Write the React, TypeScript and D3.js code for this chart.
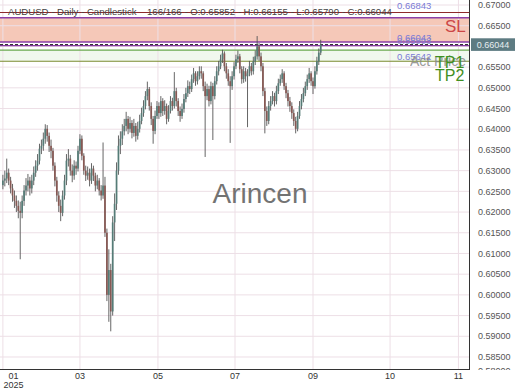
import React from 'react';
import * as d3 from 'd3';

const W = 520;
const H = 390;
const PLOT_RIGHT = 470;
const PLOT_BOTTOM = 369;

// OHLC in pips (1e-4)
const opens = [
  6265,6276,6281,6295,6276,6257,6240,6227,6215,6203,
  6198,6227,6252,6264,6276,6257,6276,6295,6312,6324,
  6353,6360,6377,6401,6384,6360,6348,6312,6276,6240,
  6215,6198,6240,6276,6324,6329,6300,6288,6312,6305,
  6348,6377,6336,6300,6288,6295,6276,6305,6288,6264,
  6276,6252,6240,6264,6150,6000,6060,5960,6175,6220,
  6300,6360,6377,6395,6408,6425,6401,6415,6391,6408,
  6384,6401,6420,6439,6456,6480,6497,6456,6425,6396,
  6432,6456,6439,6468,6444,6456,6425,6444,6468,6456,
  6492,6468,6444,6432,6449,6473,6487,6504,6497,6521,
  6535,6516,6528,6540,6535,6504,6480,6497,6468,6504,
  6480,6516,6540,6552,6569,6583,6552,6535,6516,6504,
  6528,6552,6569,6576,6545,6521,6540,6528,6535,6552,
  6540,6564,6576,6600,6576,6552,6492,6444,6420,6456,
  6468,6480,6468,6492,6511,6521,6535,6504,6487,6468,
  6456,6439,6420,6401,6432,6456,6473,6487,6504,6521,
  6535,6516,6504,6540,6564,6585,
];
const highs = [
  6290,6300,6329,6305,6285,6268,6252,6240,6228,6225,
  6240,6265,6282,6292,6285,6290,6310,6325,6340,6365,
  6375,6392,6412,6410,6392,6375,6355,6320,6285,6250,
  6230,6252,6290,6340,6352,6338,6315,6325,6322,6360,
  6388,6385,6342,6312,6310,6305,6318,6312,6295,6290,
  6282,6265,6368,6285,6160,6110,6075,6190,6245,6320,
  6385,6395,6412,6425,6442,6432,6430,6422,6425,6415,
  6418,6435,6452,6470,6492,6515,6502,6465,6432,6445,
  6468,6465,6480,6475,6470,6462,6458,6480,6476,6538,
  6500,6475,6455,6462,6485,6500,6518,6515,6532,6548,
  6540,6540,6552,6552,6540,6515,6510,6505,6515,6512,
  6528,6552,6565,6580,6592,6588,6560,6545,6528,6540,
  6562,6580,6590,6582,6552,6552,6548,6545,6565,6560,
  6575,6590,6625,6608,6585,6560,6500,6455,6468,6480,
  6492,6488,6505,6522,6532,6545,6540,6512,6495,6478,
  6465,6448,6430,6442,6468,6485,6500,6515,6532,6548,
  6540,6525,6552,6575,6595,6616,
];
const lows = [
  6255,6262,6270,6265,6245,6225,6210,6200,6185,6086,
  6185,6215,6240,6250,6240,6245,6265,6285,6300,6315,
  6340,6348,6365,6370,6345,6330,6300,6262,6225,6200,
  6178,6190,6230,6265,6310,6288,6272,6278,6290,6298,
  6340,6325,6290,6275,6278,6262,6268,6275,6250,6255,
  6240,6228,6232,6140,5985,5935,5912,5950,6130,6205,
  6290,6340,6362,6385,6395,6388,6392,6378,6382,6370,
  6375,6392,6412,6430,6448,6470,6445,6410,6365,6388,
  6425,6425,6430,6432,6435,6412,6418,6438,6445,6450,
  6455,6432,6418,6425,6440,6465,6478,6485,6490,6512,
  6505,6508,6520,6522,6492,6333,6470,6455,6460,6374,
  6472,6508,6530,6545,6560,6540,6522,6505,6367,6495,
  6520,6545,6560,6535,6510,6512,6515,6405,6528,6530,
  6532,6555,6568,6565,6540,6480,6390,6408,6412,6445,
  6460,6455,6460,6485,6505,6512,6495,6475,6455,6442,
  6425,6408,6390,6395,6425,6448,6465,6480,6495,6512,
  6505,6485,6498,6532,6555,6579,
];
const closes = [
  6276,6281,6295,6276,6257,6240,6227,6215,6203,6198,
  6227,6252,6264,6276,6257,6276,6295,6312,6324,6353,
  6360,6377,6401,6384,6360,6348,6312,6276,6240,6215,
  6198,6240,6276,6324,6329,6300,6288,6312,6305,6348,
  6377,6336,6300,6288,6295,6276,6305,6288,6264,6276,
  6252,6240,6264,6150,6000,6060,5960,6175,6220,6300,
  6360,6377,6395,6408,6425,6401,6415,6391,6408,6384,
  6401,6420,6439,6456,6480,6497,6456,6425,6396,6432,
  6456,6439,6468,6444,6456,6425,6444,6468,6456,6492,
  6468,6444,6432,6449,6473,6487,6504,6497,6521,6535,
  6516,6528,6540,6535,6504,6480,6497,6468,6504,6480,
  6516,6540,6552,6569,6583,6552,6535,6516,6504,6528,
  6552,6569,6576,6545,6521,6540,6528,6535,6552,6540,
  6564,6576,6600,6576,6552,6492,6444,6420,6456,6468,
  6480,6468,6492,6511,6521,6535,6504,6487,6468,6456,
  6439,6420,6401,6432,6456,6473,6487,6504,6521,6535,
  6516,6504,6540,6564,6585,6604,
];

const monthLabels = ['01', '03', '05', '07', '09', '10', '11'];
const monthIndex = [0, 40, 80.5, 120.5, 161, 201, 236.5];
const yearLabel = '2025';

const priceTicks = [
  0.67, 0.665, 0.66, 0.655, 0.65, 0.645, 0.64, 0.635, 0.63, 0.625,
  0.62, 0.615, 0.61, 0.605, 0.6, 0.595, 0.59, 0.585, 0.58,
];

const titleLeft = 'AUDUSD - Daily - Candlestick';
const titleRight = '166/166 - O:0.65852 - H:0.66155 - L:0.65790 - C:0.66044';
const lastPrice = 0.66044;
const topLevel = 0.66843;
const slZoneTop = 0.66693;
const slZoneBottom = 0.66107;
const entryLow = 0.6602;
const tpZoneTop = 0.6591;
const tpLevel = 0.65642;

const pip = (v: number) => v / 10000;

export default function App() {
  const x = d3.scaleLinear().domain([-1.5, 242.5]).range([0, PLOT_RIGHT]);
  const y = d3.scaleLinear().domain([0.67, 0.58]).range([5, 377.7]);
  const fmt = d3.format('.5f');
  const bodyW = 1.7;

  const candles = closes.map((c, i) => ({
    i,
    o: pip(opens[i]),
    h: pip(highs[i]),
    l: pip(lows[i]),
    c: pip(c),
  }));

  const font = "'Liberation Sans', Arial, sans-serif";
  const visibleTicks = priceTicks.filter((t) => Math.abs(y(t) - y(lastPrice)) > 8);

  return (
    <svg
      width={W}
      height={H}
      style={{ position: 'absolute', left: 0, top: 0, background: '#fff' }}
      fontFamily={font}
    >
      <defs>
        <clipPath id="plot">
          <rect x={0} y={0} width={PLOT_RIGHT} height={PLOT_BOTTOM} />
        </clipPath>
        <clipPath id="axisR">
          <rect x={PLOT_RIGHT} y={0} width={W - PLOT_RIGHT} height={PLOT_BOTTOM + 1} />
        </clipPath>
      </defs>

      <g clipPath="url(#plot)">
        {/* zones */}
        <rect
          x={0}
          y={y(slZoneTop)}
          width={PLOT_RIGHT}
          height={y(slZoneBottom) - y(slZoneTop)}
          fill="#f5c8b8"
        />
        <rect
          x={0}
          y={y(tpZoneTop)}
          width={PLOT_RIGHT}
          height={y(tpLevel) - y(tpZoneTop)}
          fill="#f1f8ee"
        />
        {/* grid */}
        {priceTicks.map((t) => (
          <line key={'gy' + t} x1={0} x2={PLOT_RIGHT} y1={y(t)} y2={y(t)} stroke="#eddfe6" strokeWidth={1} />
        ))}
        {monthIndex.map((m) => (
          <line key={'gx' + m} x1={x(m)} x2={x(m)} y1={0} y2={PLOT_BOTTOM} stroke="#eddfe6" strokeWidth={1} />
        ))}

        {/* level lines */}
        <line x1={0} x2={PLOT_RIGHT} y1={y(topLevel) + 1} y2={y(topLevel) + 1} stroke="#8e2b2b" strokeWidth={1} />
        <line x1={0} x2={PLOT_RIGHT} y1={y(slZoneTop)} y2={y(slZoneTop)} stroke="#8a3fa6" strokeWidth={1.6} />
        <line x1={0} x2={PLOT_RIGHT} y1={y(slZoneBottom)} y2={y(slZoneBottom)} stroke="#8a3fa6" strokeWidth={1.6} />
        <line x1={0} x2={PLOT_RIGHT} y1={y(entryLow)} y2={y(entryLow)} stroke="#8a3fa6" strokeWidth={1.3} />
        <line x1={0} x2={PLOT_RIGHT} y1={y(lastPrice)} y2={y(lastPrice)} stroke="#222" strokeWidth={1} strokeDasharray="3,2" />
        <line x1={0} x2={PLOT_RIGHT} y1={y(tpZoneTop)} y2={y(tpZoneTop)} stroke="#6aa84f" strokeWidth={1.2} />
        <line x1={0} x2={PLOT_RIGHT} y1={y(tpLevel)} y2={y(tpLevel)} stroke="#7b8b30" strokeWidth={1.2} />

        {/* watermark */}
        <text x={260} y={203} fontSize={28} fill="#737373" textAnchor="middle">Arincen</text>

        {/* candles */}
        {candles.map((d) => {
          const cx = x(d.i);
          const up = d.c >= d.o;
          const top = y(Math.max(d.o, d.c));
          const bot = y(Math.min(d.o, d.c));
          return (
            <g key={d.i}>
              <line x1={cx} x2={cx} y1={y(d.h)} y2={y(d.l)} stroke="#555" strokeWidth={0.9} />
              <rect
                x={cx - bodyW / 2}
                y={top}
                width={bodyW}
                height={Math.max(0.8, bot - top)}
                fill={up ? '#557c77' : '#875853'}
              />
            </g>
          );
        })}

        {/* level labels */}
        <text x={397} y={y(topLevel) - 3} fontSize={9.5} fill="#7b7bd6">{fmt(topLevel)}</text>
        <text x={397} y={y(slZoneBottom) - 1} fontSize={9.5} fill="#7b7bd6">0.66043</text>
        <text x={397} y={y(slZoneBottom) + 2.5} fontSize={9.5} fill="#7b7bd6" opacity={0.8}>0.65993</text>
        <text x={397} y={y(tpLevel) - 1.5} fontSize={9.5} fill="#7b7bd6">{fmt(tpLevel)}</text>
        <text x={410} y={66} fontSize={14} fill="#8a8a8a" opacity={0.85}>Act Price</text>
        <text x={445} y={32} fontSize={17} fill="#cc4646">SL</text>
        <text x={435} y={68} fontSize={16} fill="#3f8f22">TP1</text>
        <text x={435} y={81} fontSize={16} fill="#3f8f22">TP2</text>

        {/* title */}
        <text x={8} y={15} fontSize={9.6} fill="#444">{titleLeft}</text>
        <text x={147} y={15} fontSize={9.6} fill="#444">{titleRight}</text>
      </g>

      {/* axes */}
      <line x1={PLOT_RIGHT - 0.5} x2={PLOT_RIGHT - 0.5} y1={0} y2={PLOT_BOTTOM} stroke="#333" strokeWidth={1} />
      <line x1={0} x2={PLOT_RIGHT} y1={PLOT_BOTTOM + 0.5} y2={PLOT_BOTTOM + 0.5} stroke="#333" strokeWidth={1} />

      <g clipPath="url(#axisR)">
        {visibleTicks.map((t) => (
          <text
            key={'ty' + t}
            x={478}
            y={Math.min(y(t), 371) + 3.2}
            fontSize={9}
            fill="#555"
          >
            {fmt(t)}
          </text>
        ))}
        <rect x={471} y={y(lastPrice) - 6.3} width={44} height={12.6} fill="#5d7b82" />
        <text x={493} y={y(lastPrice) + 3.2} fontSize={9} fill="#e6eef0" textAnchor="middle">
          {fmt(lastPrice)}
        </text>
      </g>

      {monthLabels.map((lab, k) => (
        <text
          key={'tx' + lab}
          x={Math.max(x(monthIndex[k]), 13.5)}
          y={378.5}
          fontSize={9}
          fill="#333"
          textAnchor="middle"
        >
          {lab}
        </text>
      ))}
      <text x={Math.max(x(monthIndex[0]), 13.5)} y={387.5} fontSize={9} fill="#333" textAnchor="middle">
        {yearLabel}
      </text>
    </svg>
  );
}
